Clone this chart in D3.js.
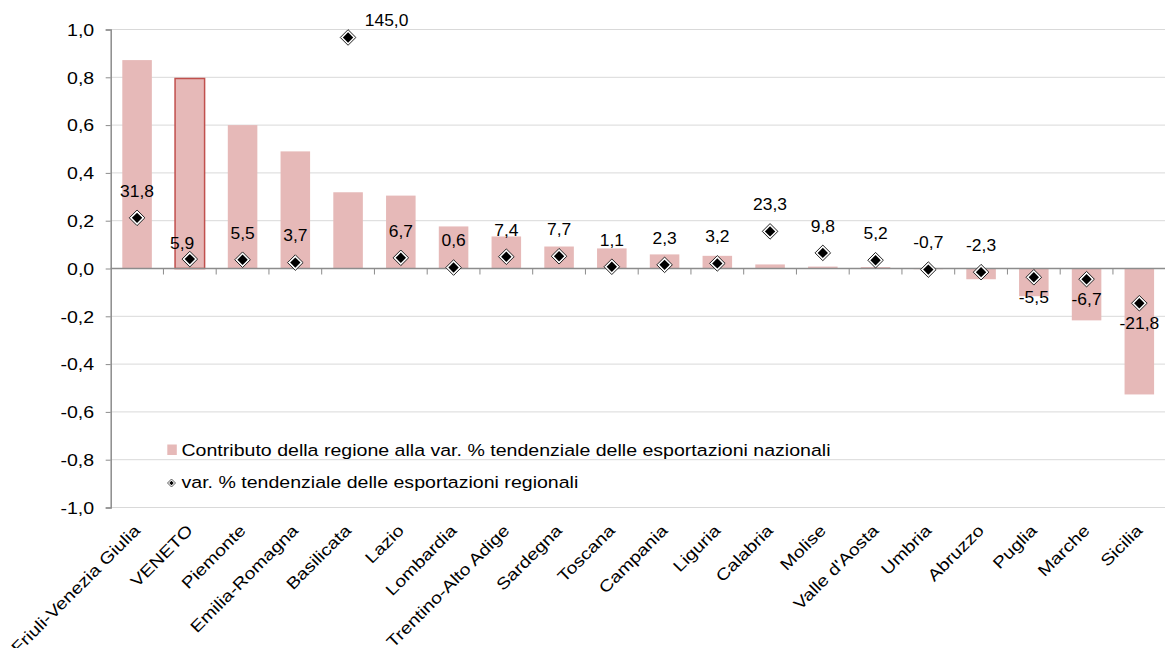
<!DOCTYPE html>
<html><head><meta charset="utf-8">
<script src="https://cdn.jsdelivr.net/npm/d3@7"></script>
<style>
body{margin:0;background:#fff;}
svg{font-family:"Liberation Sans",Arial,sans-serif;}
</style></head>
<body><svg id="c" width="1165" height="648"></svg>
<script>
const categories = ["Friuli-Venezia Giulia","VENETO","Piemonte","Emilia-Romagna","Basilicata","Lazio","Lombardia","Trentino-Alto Adige","Sardegna","Toscana","Campania","Liguria","Calabria","Molise","Valle d'Aosta","Umbria","Abruzzo","Puglia","Marche","Sicilia"];
const contributo = [0.872,0.795,0.600,0.490,0.319,0.305,0.176,0.134,0.092,0.084,0.059,0.053,0.017,0.008,0.006,-0.003,-0.045,-0.116,-0.217,-0.527];
const varRegionale = [31.8,5.9,5.5,3.7,145.0,6.7,0.6,7.4,7.7,1.1,2.3,3.2,23.3,9.8,5.2,-0.7,-2.3,-5.5,-6.7,-21.8];
const yTicks = [1.0,0.8,0.6,0.4,0.2,0.0,-0.2,-0.4,-0.6,-0.8,-1.0];
const legendLabels = ["Contributo della regione alla var. % tendenziale delle esportazioni nazionali","var. % tendenziale delle esportazioni regionali"];
const highlight = "VENETO";

(function(){
const svg = d3.select("#c");
const pl = 110.7, pr = 1165.7, pt = 29.5, pb = 507.5;
const FS = 16.3, SX = 1.2, SXL = 1.07;
const x = d3.scaleBand().domain(categories).range([pl,pr]).paddingInner(0.44).paddingOuter(0.22);
const y = d3.scaleLinear().domain([-1,1]).range([pb,pt]);
const y2 = d3.scaleLinear().domain([-150,150]).range([pb,pt]);
const fmt = v => d3.format(".1f")(v).replace(".",",").replace("−","-");

svg.append("g").selectAll("line").data(yTicks).join("line")
  .attr("x1",pl).attr("x2",1165).attr("y1",d=>y(d)).attr("y2",d=>y(d))
  .attr("stroke","#d9d9d9").attr("stroke-width",1);

const yAxis = d3.axisLeft(y).tickValues(yTicks).tickSize(5).tickPadding(8).tickFormat(d=>fmt(d));
const gy = svg.append("g").attr("transform",`translate(${pl},0)`).call(yAxis);
gy.select(".domain").attr("stroke","#8c8c8c").attr("stroke-width",1.5);
gy.selectAll(".tick line").attr("stroke","#8c8c8c");
gy.selectAll("text").attr("x",0).attr("dy",null).attr("y",0)
  .attr("transform",`translate(-16.5,5.8) scale(${SX},1)`)
  .attr("font-size",FS).attr("fill","#000").attr("font-family","Liberation Sans, Arial, sans-serif");

svg.append("g").selectAll("rect").data(categories).join("rect")
  .attr("x",d=>x(d)).attr("width",x.bandwidth())
  .attr("y",(d,i)=>y(Math.max(0,contributo[i])))
  .attr("height",(d,i)=>Math.abs(y(contributo[i])-y(0)))
  .attr("fill","#e6b9b8")
  .attr("stroke",d=>d===highlight?"#c0504d":"none")
  .attr("stroke-width",1.5);

const step = x.step();
svg.append("line").attr("x1",pl).attr("x2",1165).attr("y1",y(0)).attr("y2",y(0))
  .attr("stroke","#8c8c8c").attr("stroke-width",1.5);
svg.append("g").selectAll("line").data(d3.range(1,categories.length+1)).join("line")
  .attr("x1",i=>pl+i*step).attr("x2",i=>pl+i*step)
  .attr("y1",y(0)).attr("y2",y(0)+6).attr("stroke","#8c8c8c").attr("stroke-width",1);

svg.append("g").selectAll("text").data(categories).join("text")
  .attr("transform",d=>`translate(${x(d)+x.bandwidth()/2+4},${pb+24}) rotate(-45) scale(${SX},1)`)
  .attr("text-anchor","end").attr("font-size",FS).attr("fill","#000")
  .text(d=>d);

function diamond(g, cx, cy, r){
  g.append("path").attr("d",`M${cx},${cy-r}L${cx+r},${cy}L${cx},${cy+r}L${cx-r},${cy}Z`)
   .attr("fill","#fff").attr("stroke","#222").attr("stroke-width",1);
  const r2 = r-2.6;
  g.append("path").attr("d",`M${cx},${cy-r2}L${cx+r2},${cy}L${cx},${cy+r2}L${cx-r2},${cy}Z`)
   .attr("fill","#000");
}
const gd = svg.append("g");
categories.forEach((c,i)=>{
  diamond(gd, x(c)+x.bandwidth()/2, y2(varRegionale[i]), 7.8);
});

const gl = svg.append("g").attr("font-size",FS).attr("fill","#000").attr("text-anchor","middle");
categories.forEach((c,i)=>{
  const v = varRegionale[i];
  const cx = x(c)+x.bandwidth()/2, cy = y2(v);
  let lx = cx, ly = cy - 27;
  if (v >= 100) { lx = cx + 38.5; ly = cy - 17; }
  else if (v < -5) { ly = cy + 20; }
  else if (c === highlight) { lx = cx - 7.7; ly = cy - 16; }
  gl.append("text").attr("transform",`translate(${lx},${ly+5.8}) scale(${SXL},1)`).text(fmt(v));
});

const lg = svg.append("g");
lg.append("rect").attr("x",167.3).attr("y",444.5).attr("width",9.5).attr("height",10.5).attr("fill","#e6b9b8");
lg.append("text").attr("transform",`translate(181.5,455.7) scale(${SX},1)`).attr("font-size",FS).text(legendLabels[0]);
const dm = lg.append("g");
dm.append("path").attr("d","M171.5,479L175.5,483L171.5,487L167.5,483Z").attr("fill","#fff").attr("stroke","#333").attr("stroke-width",0.8);
dm.append("path").attr("d","M171.5,480.8L173.7,483L171.5,485.2L169.3,483Z").attr("fill","#000");
lg.append("text").attr("transform",`translate(181.5,488.3) scale(${SX},1)`).attr("font-size",FS).text(legendLabels[1]);
})();
</script></body></html>
